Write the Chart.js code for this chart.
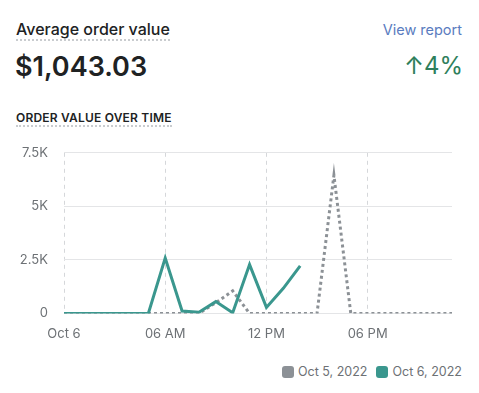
<!DOCTYPE html>
<html lang="en">

<head>
    <meta charset="UTF-8">
    <title>Average order value</title>
    <script src="https://cdn.jsdelivr.net/npm/chart.js@4.4.0/dist/chart.umd.min.js"></script>
    <style>
        body {
            margin: 0;
            width: 479px;
            height: 393px;
            background: #ffffff;
            font-family: Inter, "Noto Sans", sans-serif;
            position: relative;
            overflow: hidden;
        }

        .titulo {
            position: absolute;
            left: 16px;
            top: 19px;
            font-size: 16px;
            font-weight: 500;
            color: #202223;
            border-bottom: 2px dotted #c9cccf;
            line-height: 20px;
        }

        .valor {
            position: absolute;
            left: 15px;
            top: 51px;
            font-size: 27px;
            font-weight: 600;
            color: #202223;
            line-height: 32px;
        }

        .link {
            position: absolute;
            right: 17px;
            top: 20px;
            font-size: 14.5px;
            color: #5a7cc0;
            line-height: 20px;
        }

        .variacao {
            position: absolute;
            right: 16px;
            top: 51px;
            font-size: 24px;
            color: #2f7f5c;
            line-height: 30px;
        }

        .subtitulo {
            position: absolute;
            left: 16px;
            top: 110px;
            font-size: 12px;
            font-weight: 600;
            letter-spacing: 0.2px;
            color: #202223;
            border-bottom: 2px dotted #c9cccf;
            line-height: 15px;
        }

        .grafico {
            position: absolute;
            left: 0;
            top: 129px;
            width: 479px;
            height: 232px;
        }

        .legenda {
            position: absolute;
            right: 17px;
            top: 364px;
            display: flex;
            align-items: center;
            font-size: 12.5px;
            color: #6d7175;
            line-height: 16px;
        }

        .legenda .caixa {
            width: 12px;
            height: 12px;
            border-radius: 3px;
            margin-right: 4px;
        }

        .legenda .item {
            display: flex;
            align-items: center;
            margin-left: 9px;
        }
    </style>
</head>

<body>

    <div class="titulo">Average order value</div>
    <div class="valor">$1,043.03</div>
    <div class="link">View report</div>
    <div class="variacao">↑4%</div>
    <div class="subtitulo">ORDER VALUE OVER TIME</div>

    <div class="grafico">
        <canvas id="myChart"></canvas>
    </div>

    <div class="legenda" id="legenda"></div>

</body>

<script>
    // horas do dia (eixo x)
    var horas = ['Oct 6', '01 AM', '02 AM', '03 AM', '04 AM', '05 AM', '06 AM', '07 AM', '08 AM', '09 AM', '10 AM', '11 AM',
        '12 PM', '01 PM', '02 PM', '03 PM', '04 PM', '05 PM', '06 PM', '07 PM', '08 PM', '09 PM', '10 PM', '11 PM'];

    var oct5 = [0, 0, 0, 0, 0, 0, 0, 0, 0, 500, 1050, 0, 0, 0, 0, 0, 6450, 0, 0, 0, 0, 0, 0, 0];
    var oct6 = [0, 0, 0, 0, 0, 0, 2580, 110, 50, 550, 30, 2280, 280, 1170, 2220];

    var ticksY = [0, 2500, 5000, 7500];
    var labelsY = ['0', '2.5K', '5K', '7.5K'];

    var cinza = '#8c9196';
    var verde = '#3a978e';

    const data = {
        labels: horas,
        datasets: [{
            label: 'Oct 5, 2022',
            data: oct5,
            borderColor: cinza,
            backgroundColor: cinza,
            borderWidth: 3,
            borderDash: [3, 3],
            pointRadius: 0,
            tension: 0,
            order: 2
        }, {
            label: 'Oct 6, 2022',
            data: oct6,
            borderColor: verde,
            backgroundColor: verde,
            borderWidth: 3,
            pointRadius: 0,
            tension: 0,
            order: 1
        }]
    };

    const config = {
        type: 'line',
        data: data,
        options: {
            responsive: true,
            maintainAspectRatio: false,
            animation: false,
            layout: {
                padding: { left: 16, right: 27, top: 2, bottom: 6 }
            },
            plugins: {
                tooltip: { enabled: false },
                legend: { display: false }
            },
            scales: {
                x: {
                    grid: {
                        color: function (ctx) {
                            return ctx.index % 6 == 0 ? '#d5d7da' : 'rgba(0,0,0,0)';
                        },
                        drawTicks: false
                    },
                    border: { display: false, dash: [4, 4] },
                    ticks: {
                        autoSkip: false,
                        maxRotation: 0,
                        padding: 13,
                        color: '#6d7175',
                        font: { family: 'Inter', size: 13 },
                        callback: function (valor, i) {
                            return i % 6 == 0 ? horas[i] : '';
                        }
                    }
                },
                y: {
                    min: 0,
                    max: 7500,
                    afterBuildTicks: function (eixo) {
                        eixo.ticks = ticksY.map(v => ({ value: v }));
                    },
                    afterFit: function (eixo) {
                        eixo.width = 48;
                    },
                    grid: { color: '#e4e5e7', drawTicks: false },
                    border: { display: false },
                    ticks: {
                        padding: 16,
                        color: '#6d7175',
                        font: { family: 'Inter', size: 13 },
                        callback: function (valor) {
                            return labelsY[ticksY.indexOf(valor)];
                        }
                    }
                }
            }
        }
    };

    const myChart = new Chart(
        document.getElementById('myChart'),
        config
    );

    // legenda em html, a partir dos datasets
    var legenda = document.getElementById('legenda');
    myChart.data.datasets.forEach(function (ds) {
        var item = document.createElement('div');
        item.className = 'item';
        var caixa = document.createElement('span');
        caixa.className = 'caixa';
        caixa.style.background = ds.borderColor;
        var texto = document.createElement('span');
        texto.textContent = ds.label;
        item.appendChild(caixa);
        item.appendChild(texto);
        legenda.appendChild(item);
    });
</script>

</html>
